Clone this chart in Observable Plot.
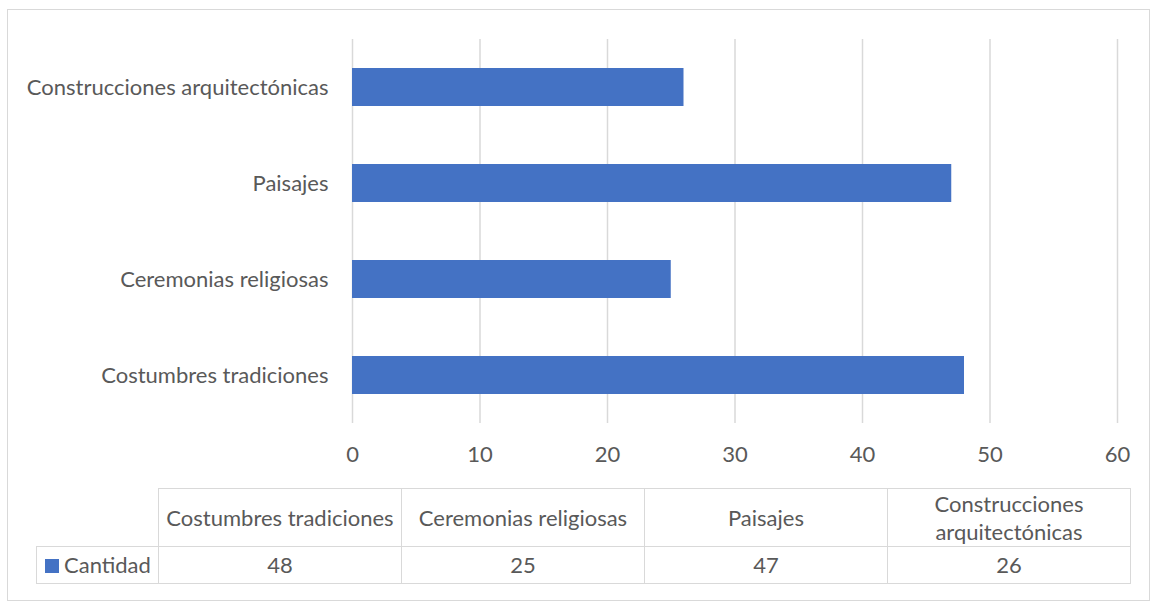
<!DOCTYPE html>
<html>
<head>
<meta charset="utf-8">
<script src="https://cdn.jsdelivr.net/npm/d3@7"></script>
<script src="https://cdn.jsdelivr.net/npm/@observablehq/plot@0.6"></script>
<style>
  html, body { margin: 0; padding: 0; background: #fff; }
  body { width: 1152px; height: 607px; position: relative; overflow: hidden; font-family: Lato, "Open Sans", sans-serif; color: #595959; }
  #frame { position: absolute; left: 7px; top: 9px; width: 1143px; height: 592px; border: 1.5px solid #d9d9d9; box-sizing: border-box; }
  #chart { position: absolute; left: 0; top: 0; }
  #tbl { position: absolute; left: 36px; top: 488px; width: 1094px; table-layout: fixed; border-collapse: collapse; font-size: 22px; color: #595959; }
  #tbl td { border: 1.5px solid #d9d9d9; text-align: center; padding: 0 2px; line-height: 28px; white-space: normal; }
  #tbl td.blank { border-top: none; border-left: none; }
  #tbl tr.h td { height: 57px; }
  #tbl tr.d td { height: 36px; }
  #tbl td.leg { text-align: left; padding-left: 8px; white-space: nowrap; }
  .sw { display: inline-block; width: 14px; height: 14px; background: #4472c4; margin-right: 5px; vertical-align: 0px; }
</style>
</head>
<body>
<div id="frame"></div>
<div id="chart"></div>
<table id="tbl">
  <colgroup><col style="width:122px"><col style="width:243px"><col style="width:243px"><col style="width:243px"><col style="width:243px"></colgroup>
</table>
<script>
const categories = ["Costumbres tradiciones", "Ceremonias religiosas", "Paisajes", "Construcciones arquitectónicas"];
const values = [48, 25, 47, 26];
const seriesName = "Cantidad";
const xTicks = [0, 10, 20, 30, 40, 50, 60];

const data = categories.map((c, i) => ({category: c, value: values[i]}));

const chart = Plot.plot({
  width: 1152,
  height: 470,
  marginLeft: 352,
  marginRight: 35,
  marginTop: 39,
  marginBottom: 47,
  style: {fontFamily: "Lato, 'Open Sans', sans-serif", fontSize: "22px", color: "#595959", background: "transparent"},
  x: {domain: [0, 60], ticks: xTicks},
  y: {domain: categories.slice().reverse(), paddingInner: 0.6, paddingOuter: 0.3},
  marks: [
    Plot.gridX(xTicks, {stroke: "#d9d9d9", strokeOpacity: 1, strokeWidth: 1.5}),
    Plot.barX(data, {x: "value", y: "category", fill: "#4472c4"}),
    Plot.axisX(xTicks, {tickSize: 0, tickPadding: 23, label: null, fill: "#595959", fontSize: 22}),
    Plot.axisY({tickSize: 0, tickPadding: 24, label: null, fill: "#595959", fontSize: 22})
  ]
});
document.getElementById("chart").appendChild(chart);

const tbl = document.getElementById("tbl");
const hr = document.createElement("tr"); hr.className = "h";
const blank = document.createElement("td"); blank.className = "blank leg"; hr.appendChild(blank);
categories.forEach(c => { const td = document.createElement("td"); td.textContent = c; hr.appendChild(td); });
tbl.appendChild(hr);
const dr = document.createElement("tr"); dr.className = "d";
const leg = document.createElement("td"); leg.className = "leg";
leg.innerHTML = '<span class="sw"></span>' + seriesName;
dr.appendChild(leg);
values.forEach(v => { const td = document.createElement("td"); td.textContent = v; dr.appendChild(td); });
tbl.appendChild(dr);
</script>
</body>
</html>
